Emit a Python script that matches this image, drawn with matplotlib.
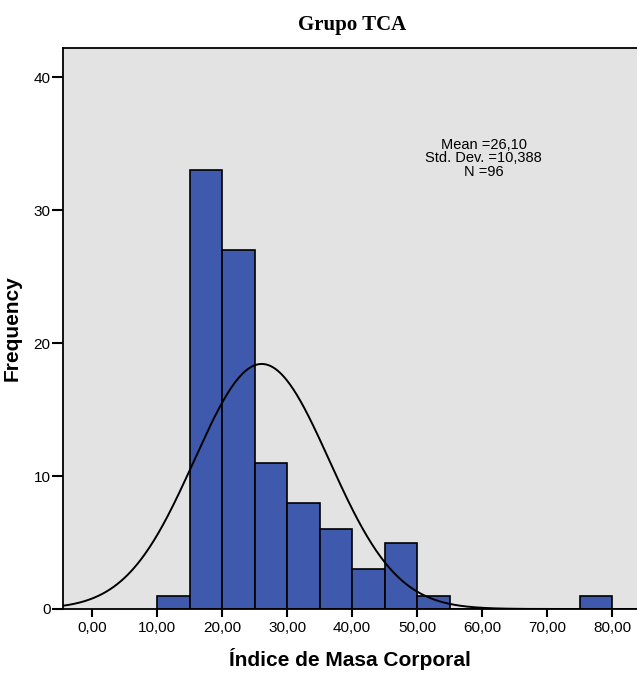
import numpy as np
import matplotlib.pyplot as plt

# histogram of BMI, bins of width 5
bin_edges = [10, 15, 20, 25, 30, 35, 40, 45, 50, 55, 60, 65, 70, 75, 80]
counts = [1, 33, 27, 11, 8, 6, 3, 5, 1, 0, 0, 0, 0, 1]
mean = 26.10
std = 10.388
n = 96
x_ticks = [0, 10, 20, 30, 40, 50, 60, 70, 80]
y_ticks = [0, 10, 20, 30, 40]

fig = plt.figure(figsize=(6.37, 6.73), dpi=100)
ax = fig.add_axes([63 / 637, 1 - 609 / 673, 1 - 63 / 637, (609 - 48) / 673])
ax.set_facecolor('#E3E3E3')

widths = np.diff(bin_edges)
ax.bar(bin_edges[:-1], counts, width=widths, align='edge',
       color='#3F59AC', edgecolor='black', linewidth=1.2, zorder=2)

# normal curve scaled to the histogram
binw = widths[0]
xs = np.linspace(-4.5, 84, 500)
ys = n * binw / (std * np.sqrt(2 * np.pi)) * np.exp(-0.5 * ((xs - mean) / std) ** 2)
ax.plot(xs, ys, color='black', lw=1.4, zorder=3)

ax.set_xlim(-4.46, 83.8)
ax.set_ylim(0, 42.2)
ax.set_xticks(x_ticks)
ax.set_xticklabels([('%.2f' % v).replace('.', ',') for v in x_ticks])
ax.set_yticks(y_ticks)

for s in ['left', 'bottom', 'top']:
    ax.spines[s].set_linewidth(1.3)
ax.spines['right'].set_visible(False)
ax.tick_params(axis='x', length=6, width=1.5, labelsize=11, pad=3)
ax.tick_params(axis='y', length=8, width=1.5, labelsize=11, pad=1)
for lab in ax.get_xticklabels() + ax.get_yticklabels():
    lab.set_fontfamily('Liberation Sans')

ax.set_xlabel('Índice de Masa Corporal', fontsize=15, fontweight='bold',
              fontfamily='Liberation Sans')
ax.xaxis.set_label_coords(0.5, (609 - 648) / 561)
ax.set_ylabel('Frequency', fontsize=15, fontweight='bold',
              fontfamily='Liberation Sans')
ax.yaxis.set_label_coords((22 - 63) / 574, 0.5)
fig.text(352 / 637, 1 - 25 / 673, 'Grupo TCA', ha='center', va='center',
         fontsize=15, fontweight='bold', fontfamily='Liberation Serif')

ax.text(60.2, 33.9, 'Mean =26,10\nStd. Dev. =10,388\nN =96', ha='center',
        va='center', fontsize=10.5, fontfamily='Liberation Sans', linespacing=0.95)

plt.savefig('out.png', dpi=100)
